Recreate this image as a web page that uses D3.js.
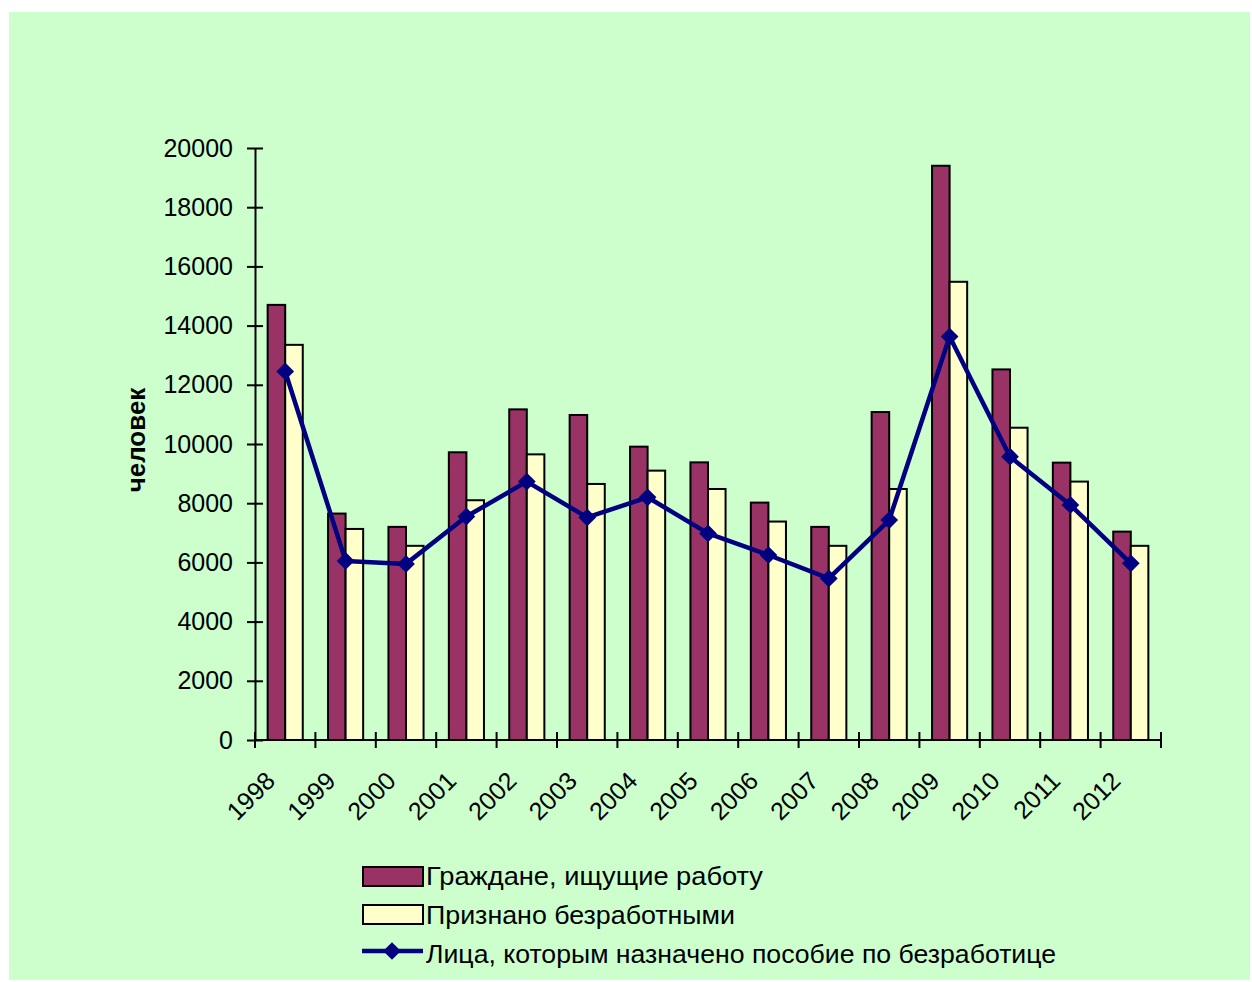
<!DOCTYPE html>
<html>
<head>
    <meta charset="utf-8">
    <title>Безработица 1998-2012</title>
    <script src="https://cdn.jsdelivr.net/npm/d3@7"></script>
    <style>
        body {
            margin: 0;
            background: #fff;
        }

        svg {
            display: block;
            font-family: "Liberation Sans", Arial, sans-serif;
        }

        .axis path,
        .axis line {
            stroke: #000;
            stroke-width: 2px;
        }

        .axis text {
            font-size: 25px;
            fill: #000;
        }

        .bar {
            stroke: #000;
            stroke-width: 2px;
        }

        .legend text {
            font-size: 26px;
            fill: #000;
        }
    </style>
</head>

<body>

<script type="text/javascript">
    var years = ["1998", "1999", "2000", "2001", "2002", "2003", "2004", "2005",
        "2006", "2007", "2008", "2009", "2010", "2011", "2012"];

    // Граждане, ищущие работу
    var seeking = [14700, 7650, 7200, 9720, 11170, 10980, 9910, 9380,
        8020, 7200, 11080, 19400, 12520, 9370, 7040];

    // Признано безработными
    var unemployed = [13350, 7130, 6560, 8100, 9650, 8650, 9100, 8480,
        7380, 6560, 8480, 15480, 10550, 8730, 6560];

    // Лица, которым назначено пособие по безработице
    var benefit = [12450, 6050, 5950, 7550, 8730, 7520, 8200, 6980,
        6250, 5460, 7430, 13630, 9570, 7940, 5970];

    var yTicks = [0, 2000, 4000, 6000, 8000, 10000, 12000, 14000, 16000, 18000, 20000];

    var seriesNames = ["Граждане,  ищущие работу", "Признано безработными",
        "Лица, которым назначено пособие по безработице"];

    var width = 1252,
        height = 982;

    var colors = {seeking: "#993366", unemployed: "#FFFFCC", line: "#000080"};

    var svg = d3.select("body")
        .append("svg")
        .attr("width", width)
        .attr("height", height);

    svg.append("rect")
        .attr("x", 9)
        .attr("y", 12)
        .attr("width", width - 11)
        .attr("height", height - 14)
        .attr("fill", "#CCFFCC");

    var x = d3.scaleBand()
        .domain(years)
        .range([255, 1161]);

    var xs = d3.scaleBand()
        .domain(["seeking", "unemployed"])
        .range([0, x.bandwidth()])
        .paddingInner(0)
        .paddingOuter(0.72);

    var y = d3.scaleLinear()
        .domain([0, 20000])
        .range([740, 148]);

    var rows = years.map(function (yr, i) {
        return {year: yr, seeking: seeking[i], unemployed: unemployed[i], benefit: benefit[i]};
    });

    // bars
    var groups = svg.append("g")
        .selectAll("g")
        .data(rows)
        .join("g")
        .attr("transform", function (d) { return "translate(" + x(d.year) + ",0)"; });

    groups.selectAll("rect")
        .data(function (d) {
            return ["seeking", "unemployed"].map(function (k) { return {key: k, value: d[k]}; });
        })
        .join("rect")
        .attr("class", "bar")
        .attr("x", function (d) { return xs(d.key); })
        .attr("width", xs.bandwidth())
        .attr("y", function (d) { return y(d.value); })
        .attr("height", function (d) { return y(0) - y(d.value); })
        .attr("fill", function (d) { return colors[d.key]; });

    // axes
    var yAxis = svg.append("g")
        .attr("class", "axis")
        .attr("transform", "translate(255,0)")
        .call(d3.axisLeft(y).tickValues(yTicks).tickSizeInner(8).tickSizeOuter(0).tickPadding(14)
            .tickFormat(d3.format("d")));
    yAxis.selectAll(".tick line").attr("x1", 8);

    var xAxis = svg.append("g")
        .attr("class", "axis")
        .attr("transform", "translate(0,740)");
    xAxis.append("line")
        .attr("x1", 255).attr("x2", 1161);
    xAxis.selectAll(".tk")
        .data(years.concat(["end"]))
        .join("line")
        .attr("class", "tk")
        .attr("x1", function (d) { return d === "end" ? 1161 : x(d); })
        .attr("x2", function (d) { return d === "end" ? 1161 : x(d); })
        .attr("y1", -8)
        .attr("y2", 8);
    xAxis.selectAll("text")
        .data(years)
        .join("text")
        .attr("transform", function (d) {
            return "translate(" + (x(d) + x.bandwidth() / 2 - 21) + ",30) rotate(-45)";
        })
        .attr("text-anchor", "end")
        .attr("dy", "0.7em")
        .attr("font-size", 26)
        .text(function (d) { return d; });

    // y title
    svg.append("text")
        .attr("transform", "translate(145,440) rotate(-90)")
        .attr("text-anchor", "middle")
        .attr("font-weight", "bold")
        .attr("font-size", 26)
        .text("человек");

    // line series
    var line = d3.line()
        .x(function (d) { return x(d.year) + x.bandwidth() / 2; })
        .y(function (d) { return y(d.benefit); });

    svg.append("path")
        .datum(rows)
        .attr("fill", "none")
        .attr("stroke", colors.line)
        .attr("stroke-width", 4.5)
        .attr("stroke-linejoin", "round")
        .attr("d", line);

    var diamond = d3.symbol().type(d3.symbolDiamond2).size(200);

    svg.append("g")
        .selectAll("path")
        .data(rows)
        .join("path")
        .attr("transform", function (d) {
            return "translate(" + (x(d.year) + x.bandwidth() / 2) + "," + y(d.benefit) + ")";
        })
        .attr("d", diamond)
        .attr("fill", colors.line);

    // legend
    var legend = svg.append("g").attr("class", "legend");
    var legendRows = [{y: 867, base: 885, type: "rect", fill: colors.seeking, len: 337},
        {y: 905, base: 924, type: "rect", fill: colors.unemployed, len: 309},
        {y: 951, base: 963, type: "line", fill: colors.line, len: 630}];

    legendRows.forEach(function (r, i) {
        if (r.type === "rect") {
            legend.append("rect")
                .attr("x", 363).attr("y", r.y)
                .attr("width", 60).attr("height", 19)
                .attr("fill", r.fill)
                .attr("stroke", "#000")
                .attr("stroke-width", 2);
        } else {
            legend.append("line")
                .attr("x1", 362).attr("x2", 423)
                .attr("y1", r.y).attr("y2", r.y)
                .attr("stroke", r.fill).attr("stroke-width", 4.5);
            legend.append("path")
                .attr("transform", "translate(392," + r.y + ")")
                .attr("d", diamond)
                .attr("fill", r.fill);
        }
        legend.append("text")
            .attr("x", 426)
            .attr("y", r.base)
            .attr("textLength", r.len)
            .attr("lengthAdjust", "spacingAndGlyphs")
            .text(seriesNames[i]);
    });
</script>

</body>

</html>
